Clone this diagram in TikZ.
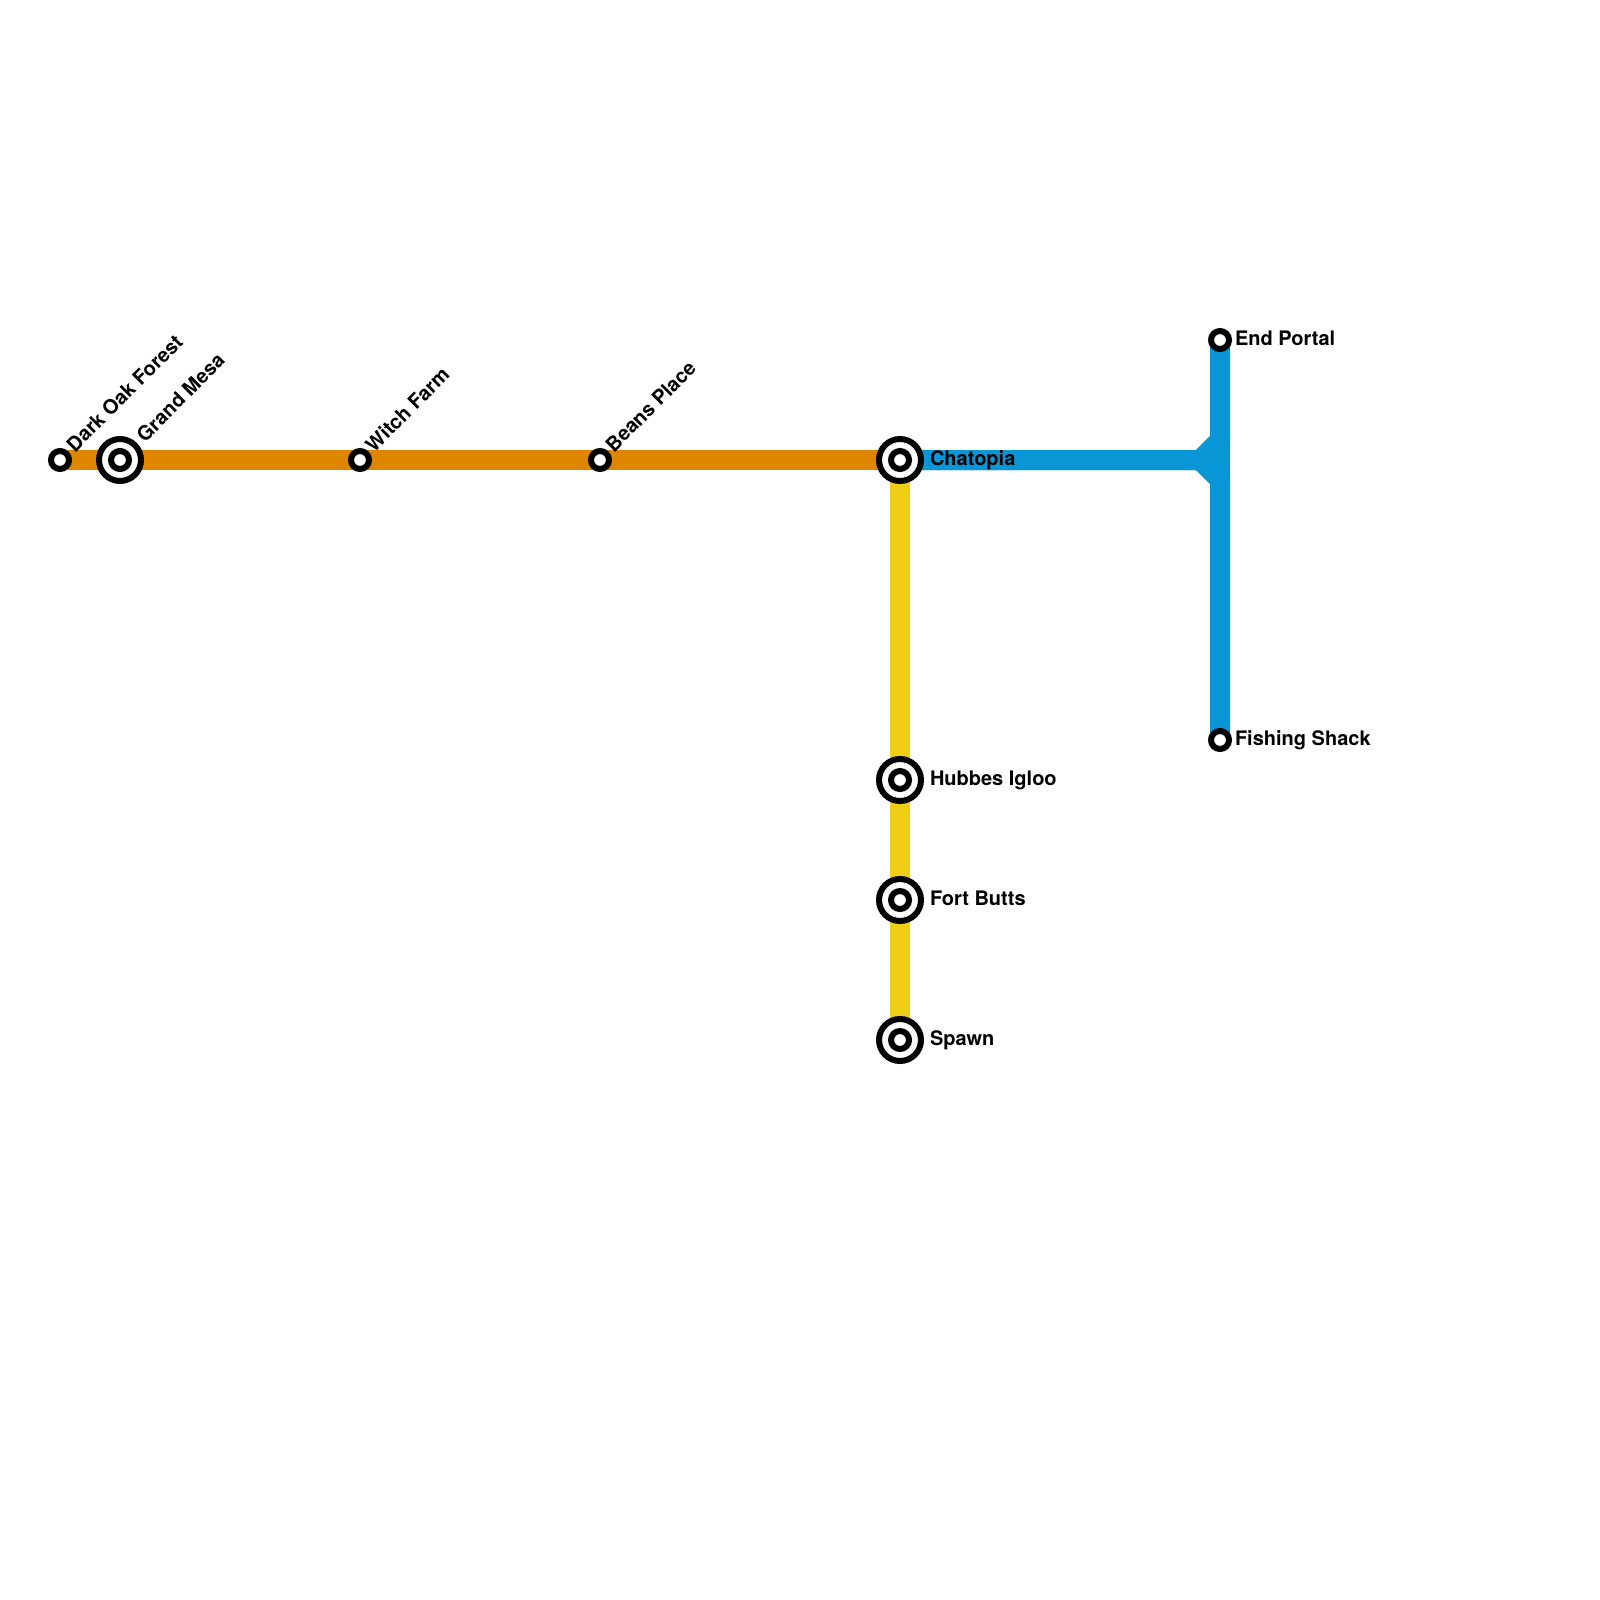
\documentclass[tikz,border=0pt]{standalone}
\usepackage{fontspec}
\setmainfont{TeX Gyre Heros}
\definecolor{lineorange}{HTML}{DF8600}
\definecolor{lineblue}{HTML}{0896D7}
\definecolor{lineyellow}{HTML}{F0CE15}
\tikzset{
  metro/.style={line width=20pt,line join=miter,miter limit=10,line cap=butt},
  ring/.style={circle,draw=black,fill=white,line width=6pt,inner sep=0pt,outer sep=0pt,minimum size=18pt},
  bigring/.style={circle,draw=black,fill=white,line width=6pt,inner sep=0pt,outer sep=0pt,minimum size=42pt},
  lab/.style={font=\bfseries\fontsize{20pt}{24pt}\selectfont,inner sep=0pt,outer sep=0pt,text=black},
  rlab/.style={lab,anchor=base west},
  dlab/.style={lab,anchor=base west,rotate=45}
}
\begin{document}
\begin{tikzpicture}[x=1pt,y=-1pt]
\useasboundingbox (0,0) rectangle (1600,1600);
\coordinate (dof) at (60,460);
\coordinate (gm) at (120,460);
\coordinate (wf) at (360,460);
\coordinate (bp) at (600,460);
\coordinate (ch) at (900,460);
\coordinate (hi) at (900,780);
\coordinate (fb) at (900,900);
\coordinate (sp) at (900,1040);
\coordinate (ep) at (1220,340);
\coordinate (fs) at (1220,740);
\coordinate (ja) at (1200,460);
\coordinate (jb) at (1220,440);
\coordinate (jc) at (1220,480);
\draw[metro,lineyellow] (ch) -- (hi) -- (fb) -- (sp);
\draw[metro,lineblue] (ch) -- (ja) -- (jb) -- (ep);
\draw[metro,lineblue] (ch) -- (ja) -- (jc) -- (fs);
\draw[metro,lineblue] (jb) -- (jc);
\draw[metro,lineorange] (dof) -- (gm) -- (wf) -- (bp) -- (ch);
\node[ring] (sdof) at (dof) {};
\node[bigring] (sgmo) at (gm) {};
\node[ring] (sgmi) at (gm) {};
\node[ring] (swf) at (wf) {};
\node[ring] (sbp) at (bp) {};
\node[bigring] (scho) at (ch) {};
\node[ring] (schi) at (ch) {};
\node[bigring] (shio) at (hi) {};
\node[ring] (shii) at (hi) {};
\node[bigring] (sfbo) at (fb) {};
\node[ring] (sfbi) at (fb) {};
\node[bigring] (sspo) at (sp) {};
\node[ring] (sspi) at (sp) {};
\node[ring] (sep) at (ep) {};
\node[ring] (sfs) at (fs) {};
\node[dlab] (ldof) at (75,453) {Dark Oak Forest};
\node[dlab] (lgm) at (145,443) {Grand Mesa};
\node[dlab] (lwf) at (374,453) {Witch Farm};
\node[dlab] (lbp) at (614,453) {Beans Place};
\node[rlab] (lch) at (930,465) {Chatopia};
\node[rlab] (lhi) at (930,785) {Hubbes Igloo};
\node[rlab] (lfb) at (930,905) {Fort Butts};
\node[rlab] (lsp) at (930,1045) {Spawn};
\node[rlab] (lep) at (1235,345) {End Portal};
\node[rlab] (lfs) at (1235,745) {Fishing Shack};
\end{tikzpicture}
\end{document}
